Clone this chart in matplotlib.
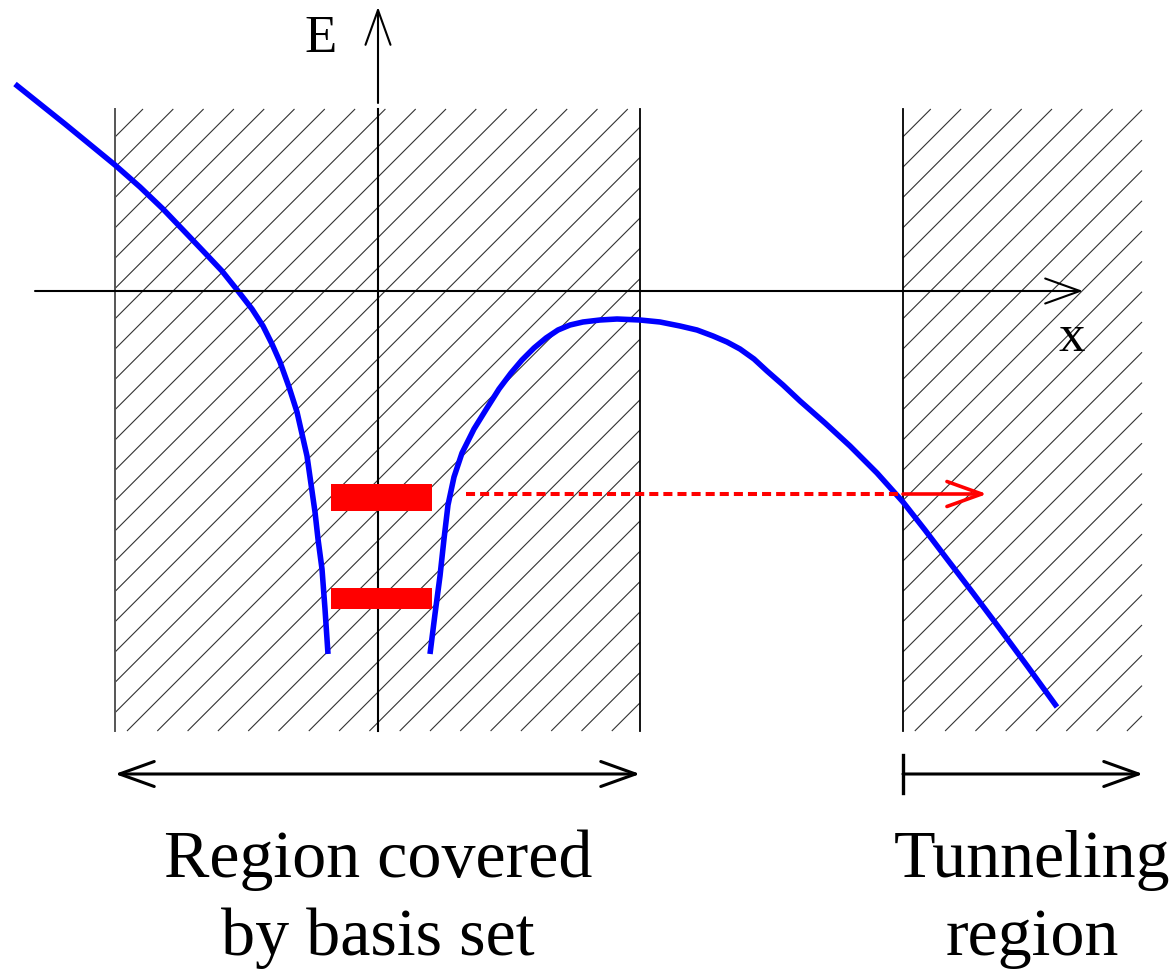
import numpy as np
import matplotlib
matplotlib.use("Agg")
import matplotlib.pyplot as plt
from matplotlib.collections import LineCollection
from matplotlib.patches import Rectangle

# everything in picture pixels (x to the right, y downwards)
W, H = 1174, 970

# potential curve, two branches
left_x = [15, 65, 115, 140, 163, 185, 205, 222, 238, 252, 263, 272, 280,
          289, 297, 302, 307, 311, 315, 318, 322, 325, 328]
left_y = [85, 125, 166, 188, 210, 233, 254, 272, 292, 310, 327, 345, 363,
          388, 413, 435, 457, 485, 513, 540, 570, 610, 655]
right_x = [430, 435, 440, 444, 448, 454, 462, 474, 487, 499, 511, 522, 534,
           546, 558, 570, 583, 600, 617, 640, 660, 680, 697, 713, 727, 740,
           754, 767, 783, 800, 825, 850, 877, 903, 925, 947, 973, 1000, 1028, 1057]
right_y = [655, 615, 577, 540, 506, 478, 454, 430, 409, 390, 374, 361, 349,
           339, 331, 326, 323, 321, 320, 321, 323, 327, 331, 337, 343, 350,
           360, 372, 386, 402, 424, 447, 474, 503, 531, 560, 594, 630, 668, 708]

# hatched regions: (x0, x1), top/bottom
regions_x = [(115, 640), (903, 1142)]
region_top, region_bottom = 110, 732

# bound levels (red bars): x range, top, bottom
level_x = (331, 432)
level_top = [485, 589]
level_bottom = [512, 610]

# tunneling level
tunnel_y = 495
tunnel_start, tunnel_exit, tunnel_tip = 466, 903, 987

# axes
origin_x, origin_y = 378, 292
xaxis_start, xaxis_tip = 35, 1083
eaxis_tip, eaxis_bottom = 8, 732

labels_bottom = ["Region covered", "by basis set"]
labels_tunnel = ["Tunneling", "region"]

fig = plt.figure(figsize=(W / 100, H / 100), dpi=100)
ax = fig.add_axes([0, 0, 1, 1])
ax.set_xlim(0, W)
ax.set_ylim(H, 0)
ax.axis("off")

serif = "Liberation Serif"

# hatching: lines x + y = c, cut to each region
spacing = 30.3
segs = []
for (x0, x1) in regions_x:
    for k in range(-5, 60):
        c = 253 + k * spacing
        ya = max(region_top, c - x1)
        yb = min(region_bottom, c - x0)
        if yb > ya:
            segs.append([(c - yb, yb), (c - ya, ya)])
ax.add_collection(LineCollection(segs, colors="#333333", linewidths=0.8))

ax.plot([115, 115], [region_top, region_bottom], color="#555555", lw=1.4)
ax.plot([640, 640], [region_top, region_bottom], color="black", lw=1.3)
ax.plot([903, 903], [region_top, region_bottom], color="black", lw=1.3)

# axes with open arrow heads
arrow = "->,head_length=2.5,head_width=0.9"
ax.annotate("", xy=(xaxis_tip, origin_y), xytext=(xaxis_start, origin_y),
            arrowprops=dict(arrowstyle=arrow, mutation_scale=10, lw=1.5,
                            color="black", shrinkA=0, shrinkB=0))
ax.plot([origin_x, origin_x], [region_top, eaxis_bottom], color="black", lw=1.5)
ax.annotate("", xy=(origin_x, eaxis_tip), xytext=(origin_x, 104),
            arrowprops=dict(arrowstyle=arrow, mutation_scale=10, lw=1.5,
                            color="black", shrinkA=0, shrinkB=0))
ax.text(321, 52, "E", fontsize=38, family=serif, ha="center", va="baseline")
ax.text(1072, 351, "x", fontsize=38, family=serif, ha="center", va="baseline")

# potential
ax.plot(left_x, left_y, color="#0000ff", lw=4, solid_capstyle="butt",
        solid_joinstyle="round")
ax.plot(right_x, right_y, color="#0000ff", lw=4, solid_capstyle="butt",
        solid_joinstyle="round")

# levels
for t, b in zip(level_top, level_bottom):
    ax.add_patch(Rectangle((level_x[0], t), level_x[1] - level_x[0], b - t,
                           facecolor="#ff0000", edgecolor="none", zorder=3))

ax.plot([tunnel_start, tunnel_exit], [tunnel_y, tunnel_y], color="#ff0000",
        lw=2.9, dashes=(2.25, 1.25), dash_capstyle="butt")
ax.annotate("", xy=(tunnel_tip, tunnel_y), xytext=(tunnel_exit, tunnel_y),
            arrowprops=dict(arrowstyle=arrow, mutation_scale=10, lw=2.6,
                            color="#ff0000", shrinkA=0, shrinkB=0))

# extent arrows at the bottom
ax.annotate("", xy=(640, 775), xytext=(115, 775),
            arrowprops=dict(arrowstyle="<->,head_length=2.5,head_width=0.9",
                            mutation_scale=10, lw=2.2, color="black",
                            shrinkA=0, shrinkB=0))
ax.plot([903, 903], [756, 794], color="black", lw=2.4)
ax.annotate("", xy=(1143, 775), xytext=(903, 775),
            arrowprops=dict(arrowstyle=arrow, mutation_scale=10, lw=2.2,
                            color="black", shrinkA=0, shrinkB=0))

for i, s in enumerate(labels_bottom):
    ax.text(378, 877 + 78 * i, s, fontsize=49, family=serif, ha="center", va="baseline")
for i, s in enumerate(labels_tunnel):
    ax.text(1032, 877 + 78 * i, s, fontsize=49, family=serif, ha="center", va="baseline")

fig.savefig("out.png", dpi=100)
